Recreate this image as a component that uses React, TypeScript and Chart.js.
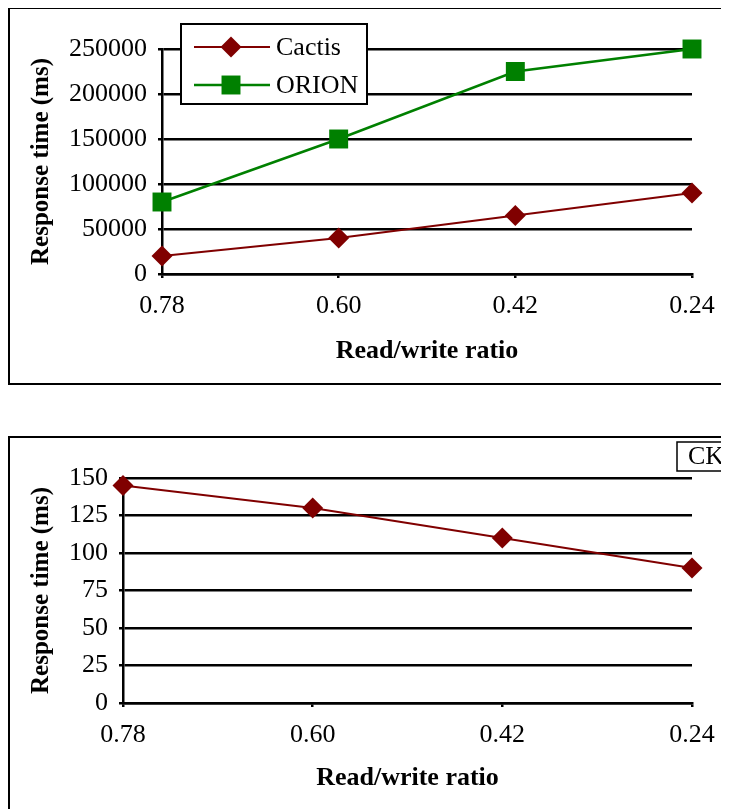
import React, { useEffect, useRef } from 'react';
import { Chart, registerables } from 'chart.js';

Chart.register(...registerables);

// ---------- data ----------
const categories = ['0.78', '0.60', '0.42', '0.24'];
const seriesNames = ['Cactis', 'ORION'];
const topCactis = [20000, 40000, 65000, 90000];
const topOrion = [80000, 150000, 225000, 250000];
const topYTicks = [0, 50000, 100000, 150000, 200000, 250000];
const bottomCactis = [145, 130, 110, 90];
const bottomYTicks = [0, 25, 50, 75, 100, 125, 150];
const bottomLegendLabel = 'CK';
const xTitle = 'Read/write ratio';
const yTitle = 'Response time (ms)';

// ---------- style ----------
const FONT = "'Liberation Serif', 'Times New Roman', serif";
const RED = '#800000';
const GREEN = '#008000';
const CANVAS_W = 719;
const CANVAS_H = 374;

function drawMarker(ctx: CanvasRenderingContext2D, style: string, x: number, y: number, r: number, color: string) {
  ctx.save();
  ctx.fillStyle = color;
  ctx.beginPath();
  if (style === 'rectRot') {
    ctx.moveTo(x - r, y);
    ctx.lineTo(x, y - r);
    ctx.lineTo(x + r, y);
    ctx.lineTo(x, y + r);
    ctx.closePath();
  } else {
    const s = r * Math.SQRT1_2;
    ctx.rect(x - s, y - s, 2 * s, 2 * s);
  }
  ctx.fill();
  ctx.restore();
}

const boxLegend = {
  id: 'boxLegend',
  afterDraw(chart: any) {
    const ctx: CanvasRenderingContext2D = chart.ctx;
    ctx.save();
    const bx = 171, by = 15, bw = 186, bh = 80;
    ctx.fillStyle = '#fff';
    ctx.fillRect(bx, by, bw, bh);
    ctx.strokeStyle = '#000';
    ctx.lineWidth = 2;
    ctx.strokeRect(bx, by, bw, bh);
    chart.data.datasets.forEach((ds: any, i: number) => {
      const cy = 38 + i * 38;
      ctx.strokeStyle = ds.borderColor;
      ctx.lineWidth = ds.borderWidth;
      ctx.beginPath();
      ctx.moveTo(184, cy);
      ctx.lineTo(260, cy);
      ctx.stroke();
      drawMarker(ctx, ds.pointStyle, 221, cy, ds.pointRadius, ds.backgroundColor);
      ctx.fillStyle = '#000';
      ctx.font = `26px ${FONT}`;
      ctx.textBaseline = 'middle';
      ctx.textAlign = 'left';
      ctx.fillText(ds.label, 266, cy + 1);
    });
    ctx.restore();
  },
};

const ckBox = {
  id: 'ckBox',
  afterDraw(chart: any) {
    const ctx: CanvasRenderingContext2D = chart.ctx;
    ctx.save();
    ctx.fillStyle = '#fff';
    ctx.fillRect(667, 4, 80, 29);
    ctx.strokeStyle = '#000';
    ctx.lineWidth = 1.5;
    ctx.strokeRect(667, 4, 80, 29);
    ctx.fillStyle = '#000';
    ctx.font = `26px ${FONT}`;
    ctx.textBaseline = 'middle';
    ctx.textAlign = 'left';
    ctx.fillText(bottomLegendLabel, 678, 19);
    ctx.restore();
  },
};

function makeConfig(datasets: any[], yTicks: number[], yWidth: number, xTitlePadBottom: number, plugins: any[]) {
  return {
    type: 'line' as const,
    data: { labels: categories, datasets },
    options: {
      responsive: false,
      animation: false as const,
      devicePixelRatio: 1,
      layout: { padding: { left: 13, top: 40, right: 37, bottom: 0 } },
      plugins: { legend: { display: false }, tooltip: { enabled: false } },
      scales: {
        x: {
          type: 'category' as const,
          offset: false,
          afterFit: (s: any) => { s.height = 109; },
          grid: { display: true, drawOnChartArea: false, drawTicks: true, tickLength: 4, color: '#000', lineWidth: 2.5 },
          border: { display: true, color: '#000', width: 2.5 },
          ticks: { color: '#000', font: { family: FONT, size: 26 }, padding: 13, maxRotation: 0 },
          title: {
            display: true,
            text: xTitle,
            color: '#000',
            font: { family: FONT, size: 26, weight: 'bold' as const },
            padding: { top: 0, bottom: xTitlePadBottom },
          },
        },
        y: {
          min: yTicks[0],
          max: yTicks[yTicks.length - 1],
          afterFit: (s: any) => { s.width = yWidth; },
          afterBuildTicks: (s: any) => { s.ticks = yTicks.map((v) => ({ value: v })); },
          grid: { color: '#000', lineWidth: 2.5, tickLength: 4, drawTicks: true },
          border: { display: true, color: '#000', width: 2.5 },
          ticks: { color: '#000', font: { family: FONT, size: 26 }, padding: 11, callback: (v: any) => String(v) },
          title: {
            display: true,
            text: yTitle,
            color: '#000',
            font: { family: FONT, size: 25, weight: 'bold' as const },
            padding: 4,
          },
        },
      },
    },
    plugins,
  };
}

export default function App() {
  const topRef = useRef<HTMLCanvasElement>(null);
  const bottomRef = useRef<HTMLCanvasElement>(null);

  useEffect(() => {
    const topChart = new Chart(
      topRef.current as HTMLCanvasElement,
      makeConfig(
        [
          {
            label: seriesNames[0],
            data: topCactis,
            borderColor: RED,
            backgroundColor: RED,
            borderWidth: 2,
            pointStyle: 'rectRot',
            pointRadius: 10.5,
            pointBorderWidth: 0,
            tension: 0,
            clip: false,
          },
          {
            label: seriesNames[1],
            data: topOrion,
            borderColor: GREEN,
            backgroundColor: GREEN,
            borderWidth: 2.5,
            pointStyle: 'rect',
            pointRadius: 13.4,
            pointBorderWidth: 0,
            tension: 0,
            clip: false,
          },
        ],
        topYTicks,
        139,
        16,
        [boxLegend]
      ) as any
    );
    const bottomChart = new Chart(
      bottomRef.current as HTMLCanvasElement,
      makeConfig(
        [
          {
            label: seriesNames[0],
            data: bottomCactis,
            borderColor: RED,
            backgroundColor: RED,
            borderWidth: 2,
            pointStyle: 'rectRot',
            pointRadius: 10.5,
            pointBorderWidth: 0,
            tension: 0,
            clip: false,
          },
        ],
        bottomYTicks,
        100,
        18,
        [ckBox]
      ) as any
    );
    return () => {
      topChart.destroy();
      bottomChart.destroy();
    };
  }, []);

  const boxStyle: React.CSSProperties = {
    position: 'absolute',
    left: 0,
    width: 740,
    border: '2px solid #000',
    boxSizing: 'border-box',
    background: '#fff',
  };

  return (
    <div style={{ position: 'relative', width: 721, height: 801, overflow: 'hidden' }}>
      <div style={{ ...boxStyle, top: -1, height: 378 }}>
        <canvas ref={topRef} width={CANVAS_W} height={CANVAS_H} style={{ display: 'block', width: CANVAS_W, height: CANVAS_H }} />
      </div>
      <div style={{ ...boxStyle, top: 428, height: 400 }}>
        <canvas ref={bottomRef} width={CANVAS_W} height={CANVAS_H} style={{ display: 'block', width: CANVAS_W, height: CANVAS_H }} />
      </div>
    </div>
  );
}
